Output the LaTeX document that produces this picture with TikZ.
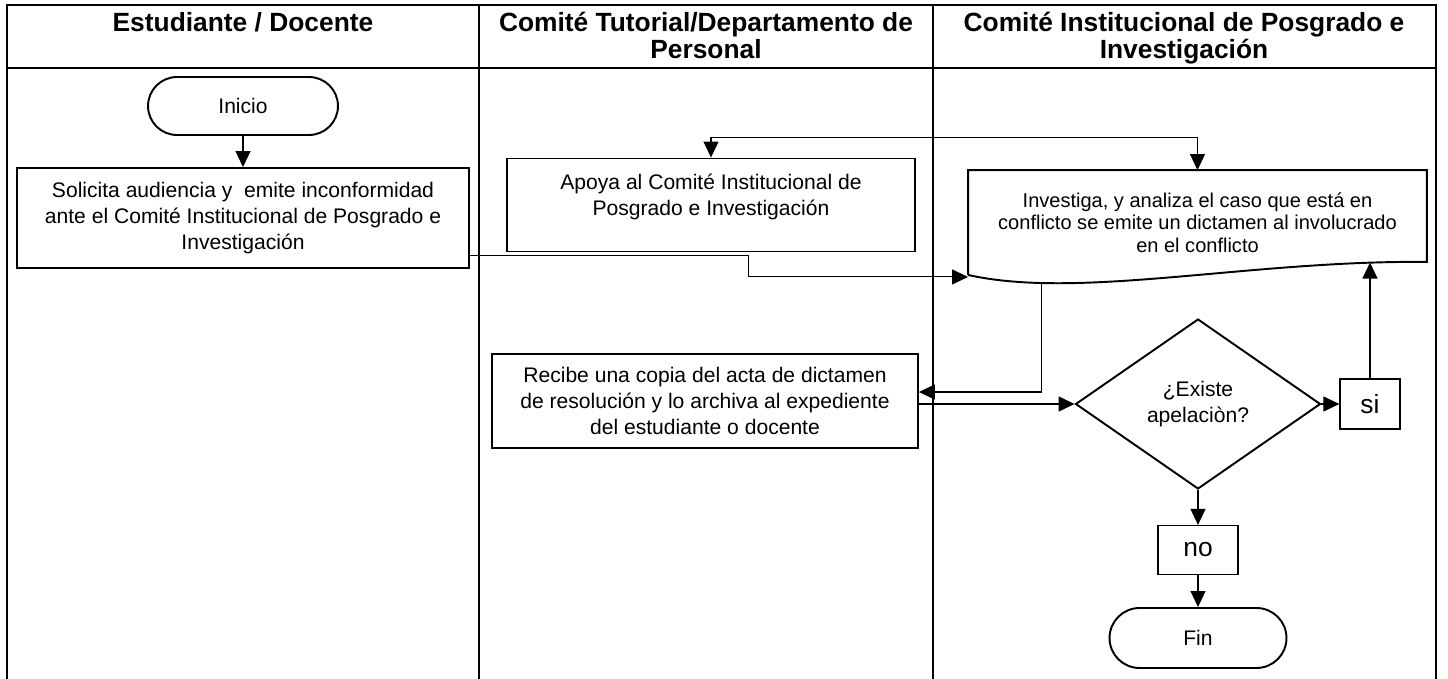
\documentclass[tikz,border=0pt]{standalone}
\usepackage{fontspec}
\setmainfont{Liberation Sans}
\usetikzlibrary{shapes.geometric,arrows.meta}

\begin{document}
\begin{tikzpicture}[x=0.02cm, y=-0.02cm,
    lane/.style = {line width=1.2pt},
    head/.style = {align=center, anchor=north, inner sep=0pt, font=\bfseries\fontsize{15}{15.5}\selectfont},
    box/.style = {draw, line width=1.1pt, align=center, inner sep=0pt, font=\fontsize{12}{15}\selectfont},
    term/.style = {box, minimum height=1.16cm, rounded corners=0.58cm},
    doc/.style = {box, draw=none},
    dec/.style = {box, diamond, minimum width=4.9cm, minimum height=3.4cm},
    answer/.style = {draw, line width=0.7pt, inner sep=0pt, font=\fontsize{15}{15}\selectfont},
    flow/.style = {line width=0.6pt, -{Triangle[length=0.32cm, width=0.3cm]}},
    link/.style = {line width=0.6pt, {Triangle[length=0.32cm, width=0.3cm]}-{Triangle[length=0.32cm, width=0.3cm]}}]
    \useasboundingbox (0,0) rectangle (1448,679);

    % swimlanes
    \draw[lane] (7,679) -- (7,5) -- (1436,5) -- (1436,679);
    \draw[lane] (7,68) -- (1436,68);
    \draw[lane] (479,5) -- (479,679);
    \draw[lane] (933,5) -- (933,679);
    \node[head] (h1) at (243,12) {Estudiante / Docente};
    \node[head] (h2) at (706,12) {Comité Tutorial/Departamento de\\Personal};
    \node[head] (h3) at (1184,12) {Comité Institucional de Posgrado e\\Investigación};

    \node[term, minimum width=3.8cm] (ini) at (243,106) {Inicio};
    \node[box, minimum width=9.06cm, minimum height=2cm] (sol) at (243,218)
        {Solicita audiencia y \ emite inconformidad\\ante el Comité Institucional de Posgrado e\\Investigación};
    \node[box, minimum width=8.16cm, minimum height=1.86cm, text depth=0.42cm] (apo) at (711,205)
        {Apoya al Comité Institucional de\\Posgrado e Investigación};
    \node[doc, minimum width=9.14cm, minimum height=2.06cm, font=\fontsize{11.4}{12.8}\selectfont] (inv) at (1197.5,222.5)
        {Investiga, y analiza el caso que está en\\conflicto se emite un dictamen al involucrado\\en el conflicto};
    \node[box, minimum width=8.52cm, minimum height=1.88cm] (rec) at (705,401)
        {Recibe una copia del acta de dictamen\\de resolución y lo archiva al expediente\\del estudiante o docente};
    \node[dec] (ape) at (1198,404) {¿Existe\\apelaciòn?};
    \node[answer, minimum width=1.2cm, minimum height=1cm] (si) at (1370,404) {si};
    \node[answer, minimum width=1.6cm, minimum height=0.98cm] (no) at (1198,550) {no};
    \node[term, minimum width=3.54cm, minimum height=1.2cm, rounded corners=0.6cm] (fin) at (1198,638) {Fin};

    % document outline with wavy bottom
    \draw[line width=1.1pt] (inv.south west) -- (inv.north west) -- (inv.north east)
        -- ([yshift=0.26cm]inv.south east)
        .. controls (1250,260) and (1080,300) .. (inv.south west)
        coordinate[pos=0.1] (invr) coordinate[pos=0.8] (invl);

    \path
    (ini) edge[flow] (sol)
    (ape) edge[flow] (si)
    (ape) edge[flow] (no)
    (no) edge[flow] (fin)
    ;
    \draw[flow] ([yshift=0.26cm]sol.south east) -- ++(278,0) |- ([yshift=-0.04cm]inv.south west);
    \draw[link] (apo.north) -- ++(0,-20) -| (inv.north);
    \draw[flow] (invl) |- ([yshift=0.18cm]rec.east);
    \draw[flow] (rec.east |- ape.west) -- (ape.west);
    \draw[flow] (si.north) -- (si.north |- invr);
\end{tikzpicture}
\end{document}
